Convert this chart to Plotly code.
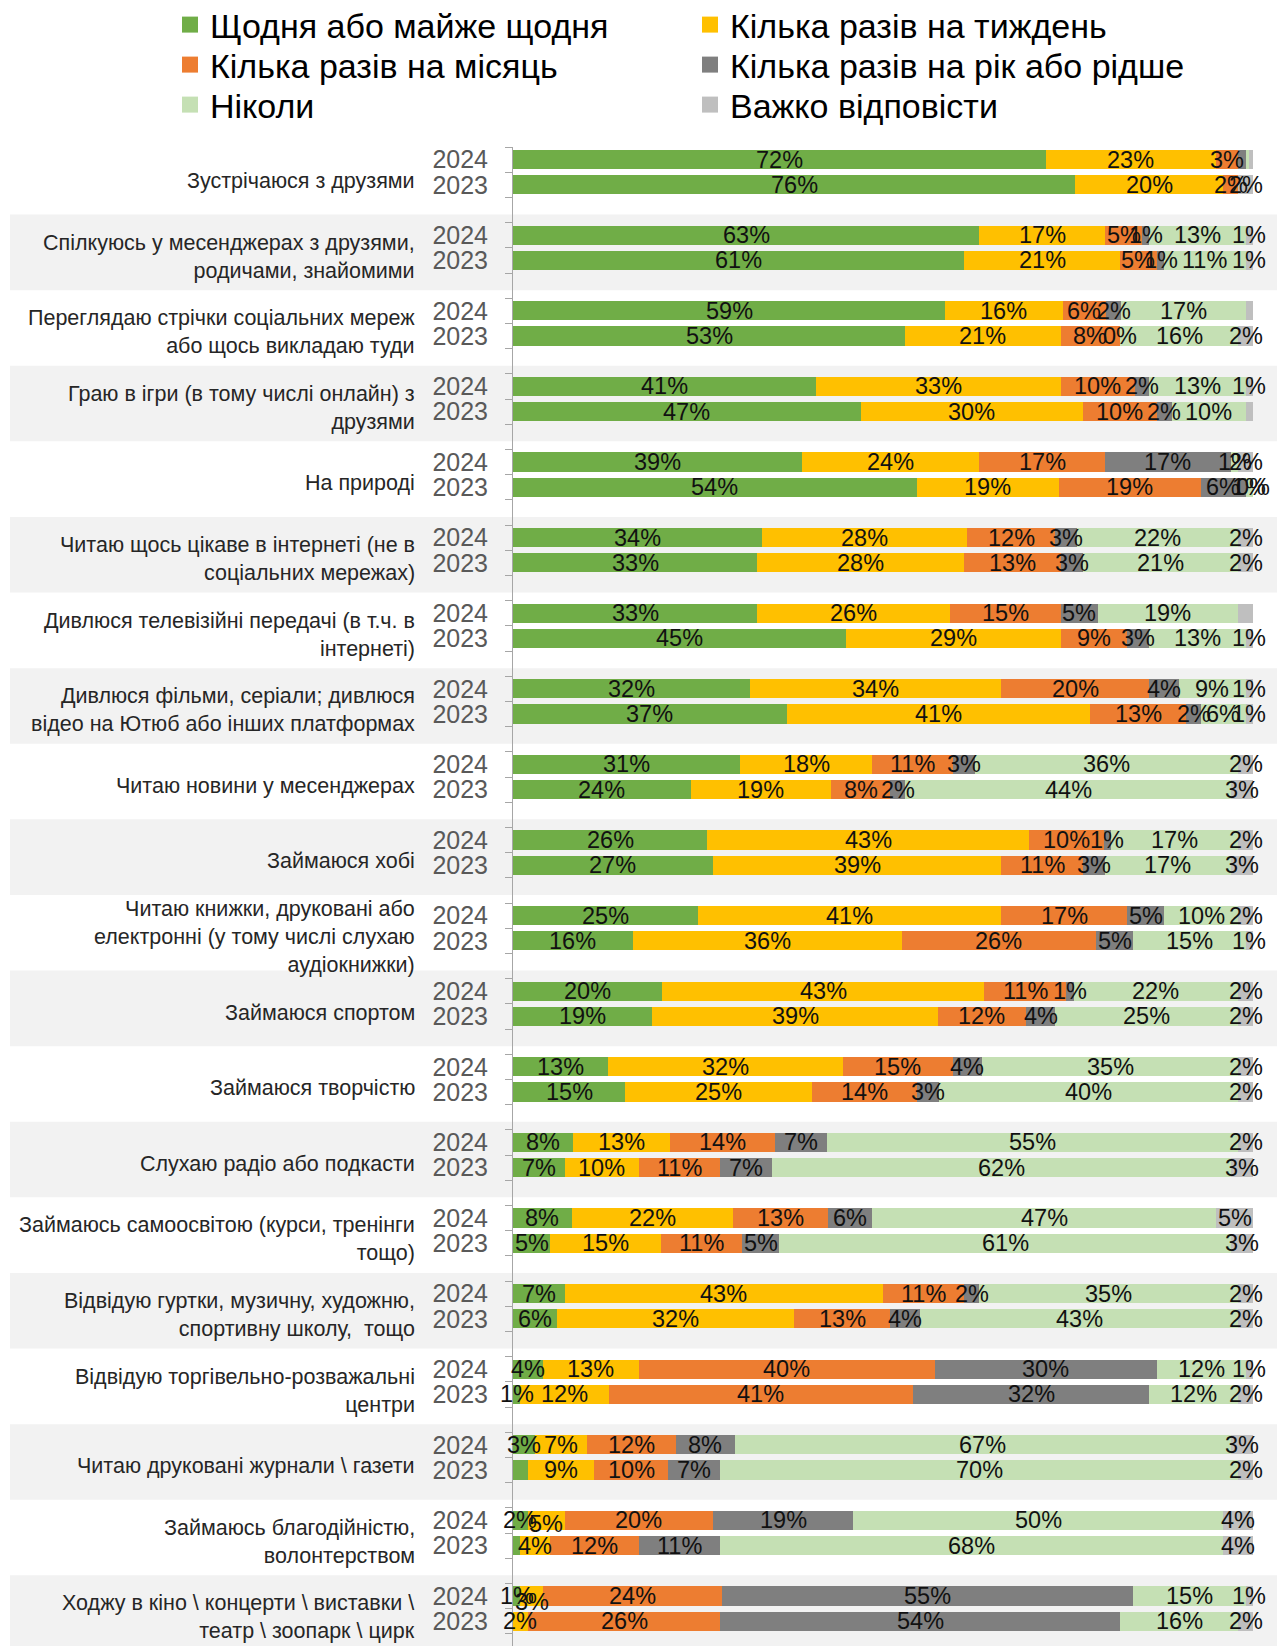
import plotly.graph_objects as go

categories = [
    "Зустрічаюся з друзями",
    "Спілкуюсь у месенджерах з друзями,<br>родичами, знайомими",
    "Переглядаю стрічки соціальних мереж<br>або щось викладаю туди",
    "Граю в ігри (в тому числі онлайн) з<br>друзями",
    "На природі",
    "Читаю щось цікаве в інтернеті (не в<br>соціальних мережах)",
    "Дивлюся телевізійні передачі (в т.ч. в<br>інтернеті)",
    "Дивлюся фільми, серіали; дивлюся<br>відео на Ютюб або інших платформах",
    "Читаю новини у месенджерах",
    "Займаюся хобі",
    "Читаю книжки, друковані або<br>електронні (у тому числі слухаю<br>аудіокнижки)",
    "Займаюся спортом",
    "Займаюся творчістю",
    "Слухаю радіо або подкасти",
    "Займаюсь самоосвітою (курси, тренінги<br>тощо)",
    "Відвідую гуртки, музичну, художню,<br>спортивну школу,  тощо",
    "Відвідую торгівельно-розважальні<br>центри",
    "Читаю друковані журнали \\ газети",
    "Займаюсь благодійністю,<br>волонтерством",
    "Ходжу в кіно \\ концерти \\ виставки \\<br>театр \\ зоопарк \\ цирк",
]
years = ["2024", "2023"]

series_names = [
    "Щодня або майже щодня",
    "Кілька разів на тиждень",
    "Кілька разів на місяць",
    "Кілька разів на рік або рідше",
    "Ніколи",
    "Важко відповісти",
]
colors = ["#70AD47", "#FFC000", "#ED7D31", "#7F7F7F", "#C5E0B4", "#BFBFBF"]

# order per category: 2024, 2023
daily = [72, 76, 63, 61, 59, 53, 41, 47, 39, 54, 34, 33, 33, 45, 32, 37, 31, 24, 26, 27,
         25, 16, 20, 19, 13, 15, 8, 7, 8, 5, 7, 6, 4, 1, 3, 2, 2, 1, 1, 0]
weekly = [23, 20, 17, 21, 16, 21, 33, 30, 24, 19, 28, 28, 26, 29, 34, 41, 18, 19, 43, 39,
          41, 36, 43, 39, 32, 25, 13, 10, 22, 15, 43, 32, 13, 12, 7, 9, 5, 4, 3, 2]
monthly = [3, 2, 5, 5, 6, 8, 10, 10, 17, 19, 12, 13, 15, 9, 20, 13, 11, 8, 10, 11,
           17, 26, 11, 12, 15, 14, 14, 11, 13, 11, 11, 13, 40, 41, 12, 10, 20, 12, 24, 26]
yearly = [1, 0, 1, 1, 2, 0, 2, 2, 17, 6, 3, 3, 5, 3, 4, 2, 3, 2, 1, 3,
          5, 5, 1, 4, 4, 3, 7, 7, 6, 5, 2, 4, 30, 32, 8, 7, 19, 11, 55, 54]
never = [0.5, 0, 13, 11, 17, 16, 13, 10, 1, 1, 22, 21, 19, 13, 9, 6, 36, 44, 17, 17,
         10, 15, 22, 25, 35, 40, 55, 62, 47, 61, 35, 43, 12, 12, 67, 70, 50, 68, 15, 16]
hard = [0.5, 2, 1, 1, 1, 2, 1, 1, 2, 0, 2, 2, 2, 1, 1, 1, 2, 3, 2, 3,
        2, 1, 2, 2, 2, 2, 2, 3, 5, 3, 2, 2, 1, 2, 3, 2, 4, 4, 1, 2]

# which data labels are displayed (1 = shown)
show_daily = [1] * 35 + [0, 1, 0, 1, 0]
show_weekly = [1] * 40
show_monthly = [1] * 40
show_yearly = [0, 0, 1, 1, 1, 1, 1, 1, 1, 1] + [1] * 30
show_never = [0, 0, 1, 1, 1, 1, 1, 1, 1, 1] + [1] * 30
show_hard = [0, 1, 1, 1, 0, 1, 1, 0, 1, 1, 1, 1, 0, 1] + [1] * 26

series = [daily, weekly, monthly, yearly, never, hard]
shows = [show_daily, show_weekly, show_monthly, show_yearly, show_never, show_hard]

n_cat = len(categories)
ypos = []
for i in range(n_cat):
    ypos += [3 * i, 3 * i + 1]
ylabels = years * n_cat

# figure sits 8px inside the page (default body margin)
FIG_W, FIG_H = 1277, 1638
px_left = 505
plot_w = 740
top = 139
slot = 25.2
y_bottom = -0.5 + (FIG_H - top) / slot

legend_keys = ["legend", "legend2", "legend3", "legend4", "legend5", "legend6"]

fig = go.Figure()
for name, vals, col in zip(series_names, series, colors):
    fig.add_trace(go.Bar(
        y=ypos, x=vals, name=name, orientation="h",
        marker=dict(color=col, line=dict(width=0)),
        width=0.76, showlegend=False, hoverinfo="x+y",
    ))
for name, col, lg in zip(series_names, colors, legend_keys):
    fig.add_trace(go.Scatter(
        x=[None], y=[None], mode="markers", name=name, legend=lg,
        marker=dict(symbol="square", size=16, color=col),
    ))

# labels that sit slightly lower in the original (weekly series, last two 2024 rows)
low_labels = {(1, 36): -4, (1, 38): -6}

annotations = []
totals = [sum(s[j] for s in series) for j in range(len(ypos))]
for j, y in enumerate(ypos):
    cum = 0.0
    for s_idx, (vals, sh) in enumerate(zip(series, shows)):
        v = vals[j]
        start = cum / totals[j] * 100
        cum += v
        end = cum / totals[j] * 100
        if sh[j]:
            annotations.append(dict(
                x=(start + end) / 2, y=y, xref="x", yref="y",
                text=f"{round(v)}%", showarrow=False,
                xanchor="center", yanchor="middle",
                yshift=low_labels.get((s_idx, j), 0),
                font=dict(family="Liberation Sans, Arial, sans-serif", size=23.5, color="#111111"),
            ))

for i, cat in enumerate(categories):
    annotations.append(dict(
        x=(409 - px_left) / plot_w, xref="paper", y=3 * i + 0.85, yref="y",
        text=cat, showarrow=False, xanchor="right", yanchor="middle", align="right",
        font=dict(family="Liberation Sans, Arial, sans-serif", size=21.5, color="#262626"),
    ))

shapes = []
for i in range(1, n_cat, 2):
    shapes.append(dict(
        type="rect", xref="paper", yref="y", layer="below",
        x0=(2 - px_left) / plot_w, x1=(FIG_W + 10 - px_left) / plot_w,
        y0=3 * i - 0.82, y1=3 * i + 2.18,
        fillcolor="#F2F2F2", line=dict(width=0),
    ))

edges = [k - 0.5 for k in range(0, 3 * n_cat + 1)]

legend_font = dict(family="Liberation Sans, Arial, sans-serif", size=34, color="#000000")
col_x = [162, 682]
row_centers = [17, 57, 97]
legends = {}
for k, key in enumerate(legend_keys):
    legends[key] = dict(
        orientation="h", xref="container", yref="container",
        x=col_x[k % 2] / FIG_W, y=1 - row_centers[k // 2] / FIG_H,
        xanchor="left", yanchor="middle",
        font=legend_font, itemwidth=30, bgcolor="rgba(0,0,0,0)",
    )

fig.update_layout(
    width=FIG_W, height=FIG_H,
    margin=dict(l=px_left, r=FIG_W - px_left - plot_w, t=top, b=0, pad=0, autoexpand=False),
    barmode="stack", barnorm="percent",
    paper_bgcolor="white", plot_bgcolor="rgba(0,0,0,0)",
    annotations=annotations, shapes=shapes,
    showlegend=True,
    xaxis=dict(range=[0, 100], visible=False, fixedrange=True),
    yaxis=dict(
        range=[y_bottom, -0.5], tickmode="array", tickvals=ypos, ticktext=ylabels,
        ticks="", showgrid=False, zeroline=False,
        showline=True, linecolor="#A6A6A6", linewidth=1,
        tickfont=dict(family="Liberation Sans, Arial, sans-serif", size=25, color="#595959"),
        ticklabelstandoff=19,
        minor=dict(tickmode="array", tickvals=edges, ticks="outside", ticklen=7,
                   tickcolor="#A6A6A6", tickwidth=1, showgrid=False),
    ),
    **legends,
)

fig.write_html("out.html")
